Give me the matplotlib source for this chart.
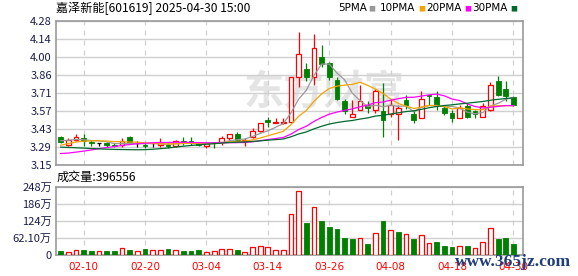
import numpy as np
import pandas as pd
import matplotlib
matplotlib.use('Agg')
import matplotlib.pyplot as plt

plt.rcParams['font.family'] = ['Noto Sans CJK SC', 'DejaVu Sans']

# closes before 02-05, only used so the moving averages start where they do
prior_close = [3.42, 3.44, 3.43, 3.41, 3.40, 3.38, 3.36, 3.37, 3.35, 3.34,
               3.28, 3.22, 3.18, 3.14, 3.12, 3.13, 3.15, 3.16, 3.18, 3.19,
               3.22, 3.25, 3.27, 3.30, 3.31,
               3.33, 3.34, 3.35, 3.35]

opens = [3.37, 3.31, 3.35, 3.36, 3.33, 3.32, 3.32, 3.31, 3.31, 3.37,
         3.32, 3.31, 3.32, 3.31, 3.31, 3.30, 3.34, 3.34, 3.32, 3.30,
         3.33, 3.33, 3.36, 3.39, 3.34, 3.37, 3.42, 3.50, 3.48, 3.48,
         3.49, 3.84, 3.90, 3.84, 4.00, 3.95, 3.82, 3.65, 3.53, 3.58,
         3.62, 3.58, 3.57, 3.55, 3.55, 3.66, 3.55, 3.52, 3.70, 3.68,
         3.60, 3.56, 3.52, 3.61, 3.57, 3.53, 3.58, 3.81, 3.75, 3.68]
highs = [3.38, 3.36, 3.39, 3.39, 3.35, 3.32, 3.33, 3.32, 3.36, 3.38,
         3.34, 3.32, 3.32, 3.36, 3.32, 3.35, 3.37, 3.37, 3.33, 3.32,
         3.33, 3.38, 3.39, 3.41, 3.36, 3.44, 3.48, 3.53, 3.52, 3.52,
         3.84, 4.19, 3.95, 4.18, 4.09, 3.96, 3.84, 3.67, 3.66, 3.78,
         3.65, 3.75, 3.79, 3.67, 3.62, 3.70, 3.58, 3.73, 3.70, 3.73,
         3.62, 3.58, 3.62, 3.64, 3.58, 3.64, 3.80, 3.85, 3.81, 3.69]
lows = [3.32, 3.30, 3.34, 3.30, 3.30, 3.30, 3.29, 3.29, 3.29, 3.32,
        3.29, 3.28, 3.29, 3.29, 3.28, 3.29, 3.31, 3.31, 3.30, 3.28,
        3.28, 3.31, 3.34, 3.35, 3.30, 3.36, 3.41, 3.45, 3.48, 3.47,
        3.48, 3.76, 3.81, 3.78, 3.92, 3.82, 3.66, 3.55, 3.53, 3.58,
        3.56, 3.56, 3.37, 3.53, 3.35, 3.59, 3.48, 3.52, 3.62, 3.58,
        3.54, 3.49, 3.52, 3.52, 3.52, 3.53, 3.57, 3.69, 3.65, 3.61]
closes = [3.33, 3.35, 3.37, 3.34, 3.32, 3.32, 3.31, 3.30, 3.34, 3.32,
          3.32, 3.30, 3.32, 3.32, 3.30, 3.34, 3.33, 3.32, 3.31, 3.32,
          3.32, 3.36, 3.39, 3.35, 3.35, 3.42, 3.48, 3.49, 3.49, 3.49,
          3.84, 4.02, 3.84, 4.07, 3.94, 3.84, 3.67, 3.57, 3.55, 3.65,
          3.60, 3.73, 3.50, 3.62, 3.60, 3.62, 3.50, 3.67, 3.69, 3.61,
          3.56, 3.52, 3.60, 3.53, 3.55, 3.61, 3.78, 3.70, 3.69, 3.62]
# volume in 万手
volume = [14.5, 12, 17, 18, 14.5, 13, 14.5, 14.5, 25, 18,
          13, 22, 20, 20, 22, 18, 15, 16, 18, 12,
          14.5, 20.6, 22, 18, 10, 28, 31.5, 28, 17, 17,
          148, 231.5, 116, 173, 123.6, 102, 94.5, 62, 58, 60.6,
          40, 79, 123.6, 91, 83.6, 75, 57, 71.5, 42.5, 47,
          33, 29, 31.5, 33, 24, 46, 97, 58, 62, 39.6556]

date_pos = [3, 11, 19, 27, 35, 43, 51, 59]
date_labels = ['02-10', '02-20', '03-04', '03-14', '03-26', '04-08', '04-18', '04-30']
price_ticks = np.linspace(3.15, 4.28, 9)
price_labels = ['3.15', '3.29', '3.43', '3.57', '3.71', '3.86', '4.00', '4.14', '4.28']
vol_ticks = [0, 62.1, 124.2, 186.3, 248.4]
vol_labels = ['0', '62.10万', '124万', '186万', '248万']
ma_periods = [5, 10, 20, 30]
ma_colors = ['#999999', '#f5a300', '#ff00ff', '#006a2e']

RED = '#ff0000'
GREEN = '#008000'
GRID = '#d0d0d0'
TICKC = '#1a1f4a'

fig = plt.figure(figsize=(5.78, 2.76), dpi=100)
ax = fig.add_axes([56 / 578, 1 - 165 / 276, 466.7 / 578, 144 / 276])
axv = fig.add_axes([56 / 578, 1 - 255 / 276, 466.7 / 578, 68.3 / 276])

x = np.arange(len(closes))
o, h, l, c = map(np.array, (opens, highs, lows, closes))
vol = np.array(volume)

# watermark
ax.text(0.575, 0.5, '东方财富', transform=ax.transAxes, fontsize=29, color='#e4e4e4',
        fontweight='bold', ha='center', va='center', zorder=0)

# candles
up = c > o
down = c < o
flat = c == o
ccol = np.where(up, RED, np.where(down, GREEN, 'black'))
ax.vlines(x, l, h, colors=ccol, lw=0.9, zorder=3)
ax.bar(x[up], (c - o)[up], bottom=o[up], width=0.62, facecolor='white',
       edgecolor=RED, lw=0.9, zorder=4)
ax.bar(x[down], (c - o)[down], bottom=o[down], width=0.62, facecolor=GREEN,
       edgecolor=GREEN, lw=0.6, zorder=4)
ax.hlines(c[flat], x[flat] - 0.3, x[flat] + 0.3, colors='black', lw=0.9, zorder=4)

# moving averages
allc = pd.Series(prior_close + closes)
for n, col in zip(ma_periods, ma_colors):
    ma = allc.rolling(n).mean().to_numpy()[len(prior_close):]
    ax.plot(x, ma, color=col, lw=0.9, zorder=5)

# volume, coloured by close vs previous close
prevc = np.array([prior_close[-1]] + closes[:-1])
vup = c >= prevc
axv.bar(x[vup], vol[vup], width=0.62, facecolor='white', edgecolor=RED, lw=0.9, zorder=3)
axv.bar(x[~vup], vol[~vup], width=0.62, facecolor=GREEN, edgecolor=GREEN, lw=0.6, zorder=3)

for a in (ax, axv):
    a.set_xlim(-0.6, 60.2)
    a.set_xticks(date_pos)
    a.xaxis.grid(True, color=GRID, ls=(0, (4, 4)), lw=0.9)
    a.yaxis.grid(True, color=GRID, ls='-', lw=1)
    a.set_axisbelow(True)
    for s in a.spines.values():
        s.set_color('#999999')
        s.set_linewidth(1.2)
    a.tick_params(length=0, labelsize=8, colors=TICKC, pad=3)

ax.set_ylim(3.15, 4.28)
ax.set_yticks(price_ticks, price_labels)
ax.set_xticklabels([])

axv.set_ylim(0, 248.4)
axv.set_yticks(vol_ticks, vol_labels)
axv.set_xticklabels(date_labels, fontsize=7.5, color=RED, family='DejaVu Sans')
axv.tick_params(axis='x', pad=5)

fig.text(56 / 578, 1 - 8 / 276, '嘉泽新能[601619] 2025-04-30 15:00', fontsize=8.7,
         va='center', ha='left', color='black')
fig.text(57 / 578, 1 - 177 / 276, '成交量:%d' % round(volume[-1] * 10000), fontsize=8.7,
         va='center', ha='left', color='black')

# legend
leg_x = [338, 380, 426, 472]
for n, col, lx in zip(ma_periods, ma_colors, leg_x):
    fig.text(lx / 578, 1 - 8 / 276, '%dPMA' % n, fontsize=7.5, va='center', ha='left',
             family='DejaVu Sans', color='black')
    fig.text((lx + 8 * len(str(n)) + 22) / 578, 1 - 9 / 276, '■', fontsize=5,
             va='center', ha='left', color=col)

# site stamp in the bottom right corner
fig.text(455 / 578, 1 - 262 / 276, 'www.365jz.com', fontsize=12.5, color='#1f3d7a',
         family='Liberation Serif', fontweight='bold', va='center', ha='left')

fig.savefig('out.png', dpi=100)
